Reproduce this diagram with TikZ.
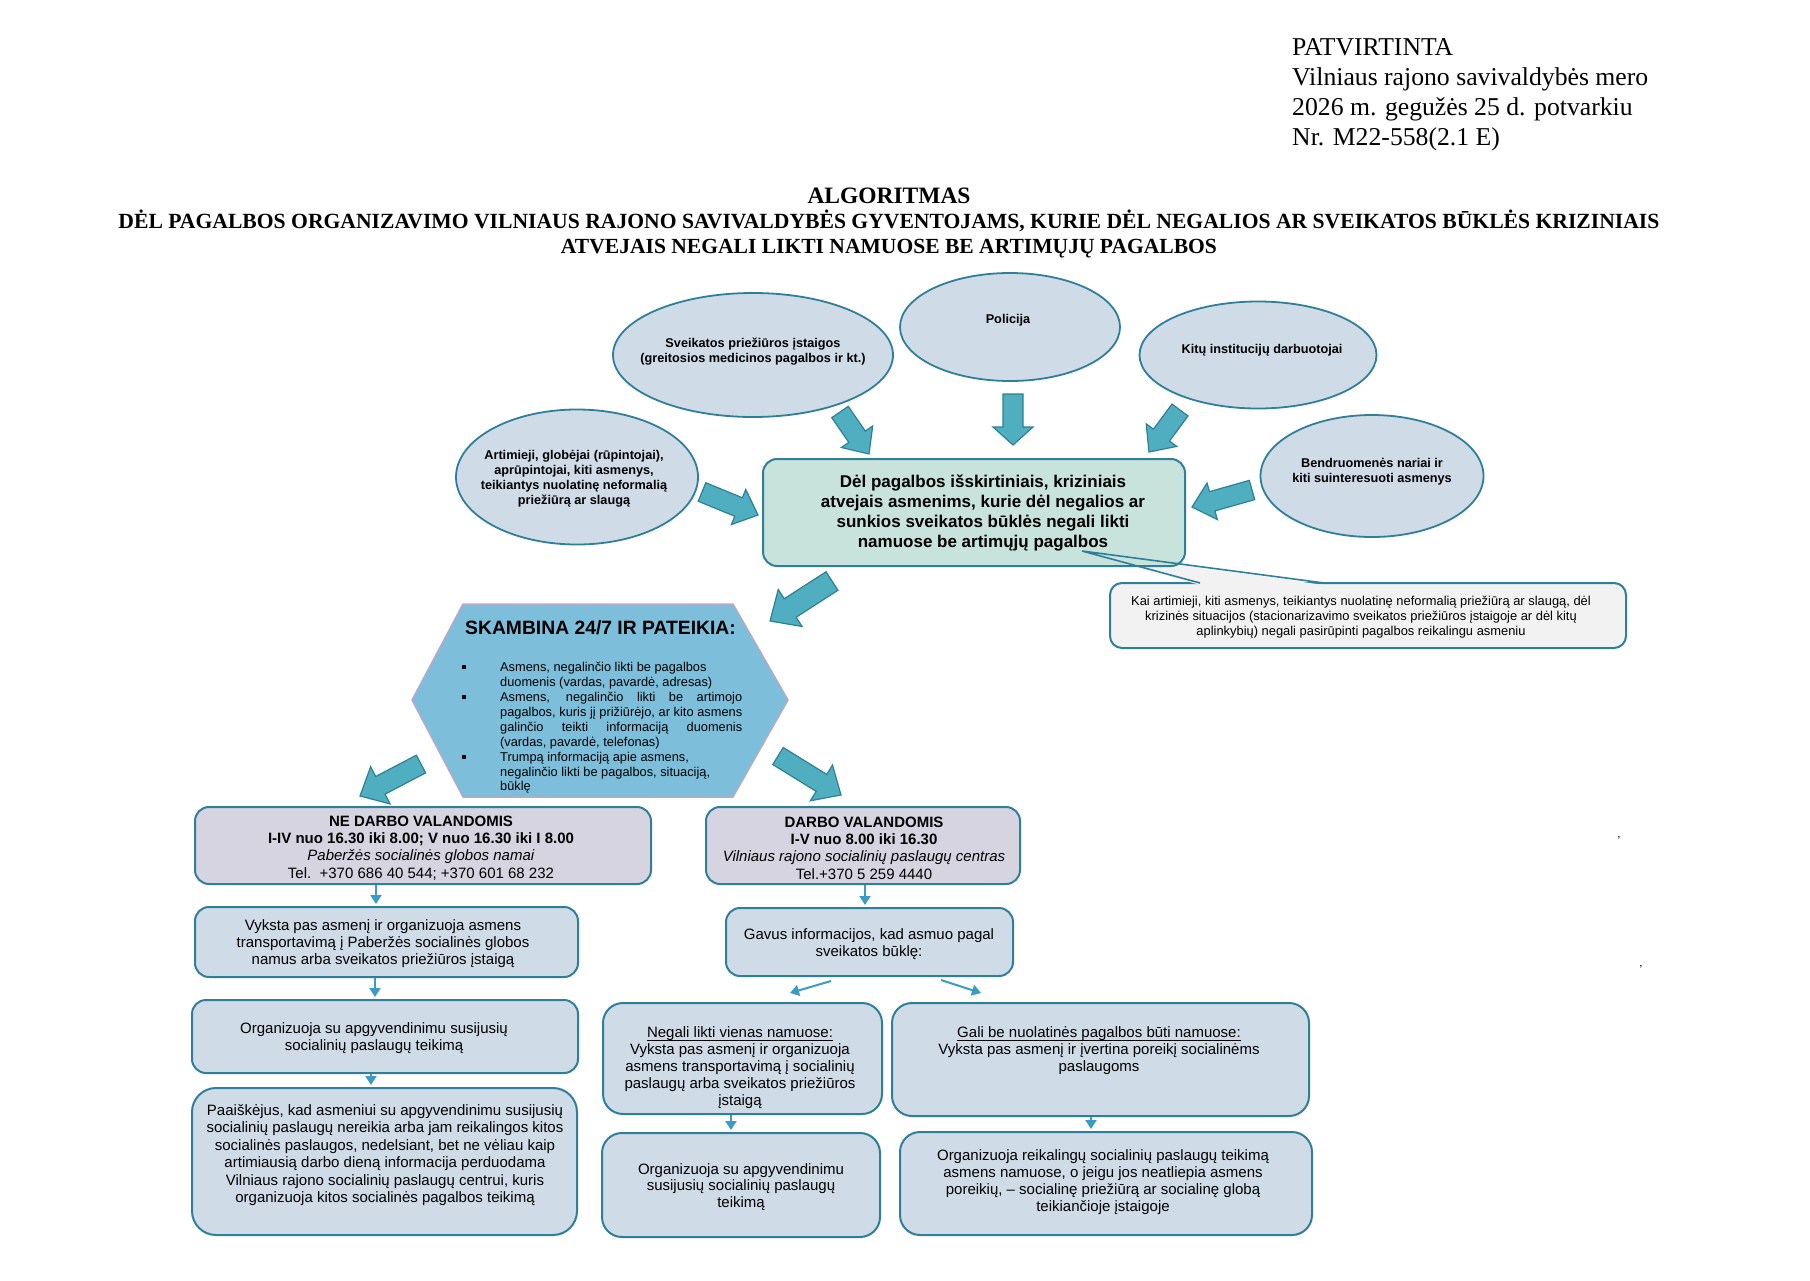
\documentclass[tikz,border=0pt]{standalone}
\usepackage{fontspec}
\setmainfont{Liberation Serif}
\newfontfamily\arialf{Liberation Sans}
\usetikzlibrary{shapes.geometric,arrows.meta,calc}

\definecolor{ellfill}{HTML}{CFDCE8}
\definecolor{tealb}{HTML}{2F7F9A}
\definecolor{mint}{HTML}{C7E3DB}
\definecolor{hexfill}{HTML}{7DBFDB}
\definecolor{hexline}{HTML}{B4AAC9}
\definecolor{barfill}{HTML}{4FAFC0}
\definecolor{barline}{HTML}{2E8094}
\definecolor{thinc}{HTML}{3A9CC4}
\definecolor{lav}{HTML}{D6D4E0}
\definecolor{callfill}{HTML}{F2F2F2}

\tikzset{
 ell/.style={ellipse, draw=tealb, line width=1.8pt, fill=ellfill, inner sep=0pt},
 etext/.style={font=\arialf\bfseries\fontsize{12.7}{15}\selectfont, align=center, inner sep=0pt},
 rbox/.style={draw=tealb, line width=2pt, fill=ellfill, rounded corners=14pt, inner sep=0pt},
 lbox/.style={rbox, fill=lav},
 btext/.style={font=\arialf\fontsize{15}{17}\selectfont, align=center, inner sep=0pt},
 thinarrow/.style={draw=thinc, line width=2pt, shorten >=2pt, -{Triangle[width=11pt,length=9pt]}},
 bar/.style={fill=barfill, draw=barline, line width=1.2pt, line join=miter},
 hdr/.style={font=\fontsize{25.7}{30}\selectfont, inner sep=0pt},
}

\newcommand{\barrow}[5]{%
  \pgfpointdiff{\pgfpointanchor{#1}{center}}{\pgfpointanchor{#2}{center}}%
  \pgfgetlastxy{\bdx}{\bdy}%
  \pgfmathsetmacro{\barang}{atan2(\bdy,\bdx)}%
  \pgfmathsetmacro{\barlen}{veclen(\bdx,\bdy)}%
  \begin{scope}[shift={(#1)}, rotate=\barang, x=1pt, y=1pt]
    \draw[bar] (0,-#3) -- ({\barlen-#5},-#3) -- ({\barlen-#5},-#4) -- (\barlen,0) -- ({\barlen-#5},#4) -- ({\barlen-#5},#3) -- (0,#3) -- cycle;
  \end{scope}}
\newcommand{\hbul}{\makebox[39pt][l]{\hspace*{1pt}\rule[2.6pt]{4pt}{4pt}}}
\newcommand{\hind}{\hspace*{39pt}}
\newcommand{\jl}[1]{\makebox[242pt][s]{#1}}
\newcommand{\ulbox}[1]{\setbox0\hbox{#1}\rlap{\rule[-2.8pt]{\wd0}{1.1pt}}\box0}

\begin{document}
\begin{tikzpicture}[x=1pt,y=-1pt]
\useasboundingbox (0,0) rectangle (1810,1280);
\fill[white] (0,0) rectangle (1810,1280);

% header
\node[hdr, anchor=base west] (h1) at (1292,55) {PATVIRTINTA};
\node[hdr, anchor=base west] (h2) at (1292,85.5) {Vilniaus rajono savivaldybės mero};
\node[hdr, anchor=base west] (h3) at (1292,115.5) {2026 m. gegužės 25 d. potvarkiu};
\node[hdr, anchor=base west] (h4) at (1292,145) {Nr. M22-558(2.1 E)};

% title
\node[anchor=base, inner sep=0pt] (t1) at (889,203) {\resizebox{163pt}{!}{\fontsize{23.5}{26}\selectfont\bfseries ALGORITMAS}};
\node[anchor=base, inner sep=0pt] (t2) at (889,228) {\resizebox{1541pt}{!}{\fontsize{21.3}{24}\selectfont\bfseries DĖL PAGALBOS ORGANIZAVIMO VILNIAUS RAJONO SAVIVALDYBĖS GYVENTOJAMS, KURIE DĖL NEGALIOS AR SVEIKATOS BŪKLĖS KRIZINIAIS}};
\node[anchor=base, inner sep=0pt] (t3) at (889,253) {\resizebox{656pt}{!}{\fontsize{21.3}{24}\selectfont\bfseries ATVEJAIS NEGALI LIKTI NAMUOSE BE ARTIMŲJŲ PAGALBOS}};

% callout (behind main box)
\node[draw=tealb, line width=2pt, fill=callfill, rounded corners=12pt, minimum width=516pt, minimum height=65pt, inner sep=0pt] (cb) at (1368,615.5) {};
\coordinate (ctip) at (1082,551);
\coordinate (cw1) at (1200,583);
\coordinate (cw2) at (1324,583);
\fill[callfill] ([yshift=-2pt]cw1) -- (ctip) -- ([yshift=-2pt]cw2) -- cycle;

% main box
\node[rbox, fill=mint, minimum width=422pt, minimum height=107pt] (main) at (974,512.5) {};
\draw[draw=tealb, line width=1.6pt] (cw1) -- (ctip) -- (cw2);
\node[font=\arialf\bfseries\fontsize{17}{20}\selectfont, align=center, inner sep=0pt] (maint) at (983,513) {Dėl pagalbos išskirtiniais, kriziniais\\atvejais asmenims, kurie dėl negalios ar\\sunkios sveikatos būklės negali likti\\namuose be artimųjų pagalbos};
\node[font=\arialf\fontsize{12.9}{15.3}\selectfont, align=center, inner sep=0pt] (cbt) at (1361,617) {Kai artimieji, kiti asmenys, teikiantys nuolatinę neformalią priežiūrą ar slaugą, dėl\\krizinės situacijos (stacionarizavimo sveikatos priežiūros įstaigoje ar dėl kitų\\aplinkybių) negali pasirūpinti pagalbos reikalingu asmeniu};

% ellipses
\node[ell, minimum width=280pt, minimum height=124pt] (e1) at (753,355) {};
\node[etext] (e1t) at (753,352) {Sveikatos priežiūros įstaigos\\(greitosios medicinos pagalbos ir kt.)};
\node[ell, minimum width=220pt, minimum height=108pt] (e2) at (1010,327) {};
\node[etext] (e2t) at (1008,320) {Policija};
\node[ell, minimum width=237pt, minimum height=107pt] (e3) at (1258,355) {};
\node[etext] (e3t) at (1262,350) {Kitų institucijų darbuotojai};
\node[ell, minimum width=223pt, minimum height=122pt] (e4) at (1372,476) {};
\node[etext] (e4t) at (1372,471.5) {Bendruomenės nariai ir\\kiti suinteresuoti asmenys};
\node[ell, minimum width=242pt, minimum height=135pt] (e5) at (577,477) {};
\node[etext] (e5t) at (574,479) {Artimieji, globėjai (rūpintojai),\\aprūpintojai, kiti asmenys,\\teikiantys nuolatinę neformalią\\priežiūrą ar slaugą};

% block arrows
\coordinate (a1s) at (840,412); \coordinate (a1e) at (869,454);
\coordinate (a2s) at (702,492); \coordinate (a2e) at (758,515);
\coordinate (a3s) at (1013,394); \coordinate (a3e) at (1013,445);
\coordinate (a4s) at (1180,410); \coordinate (a4e) at (1149,452);
\coordinate (a5s) at (1252,490); \coordinate (a5e) at (1192,507);
\coordinate (a6s) at (421,764); \coordinate (a6e) at (360,796);
\coordinate (a7s) at (778,756); \coordinate (a7e) at (841,795);
\coordinate (a8s) at (832,581); \coordinate (a8e) at (770,621);
\barrow{a1s}{a1e}{10}{19}{21}
\barrow{a2s}{a2e}{10}{19}{21}
\barrow{a3s}{a3e}{10}{20}{18}
\barrow{a4s}{a4e}{10}{19}{21}
\barrow{a5s}{a5e}{10}{19}{21}
\barrow{a6s}{a6e}{10}{21}{23}
\barrow{a7s}{a7e}{10}{21}{23}
\barrow{a8s}{a8e}{11}{22}{24}

% hexagon
\draw[fill=hexfill, draw=hexline, line width=1.5pt, line join=miter] (463,604) -- (733,604) -- (788,700) -- (733,797) -- (463,797) -- (412,700) -- cycle;
\node[font=\arialf\bfseries\fontsize{19.3}{22}\selectfont, anchor=base, inner sep=0pt] (hext) at (600.5,634) {SKAMBINA 24/7 IR PATEIKIA:};
\node[font=\arialf\fontsize{12.8}{14.9}\selectfont, align=left, anchor=west, inner sep=0pt] (hexl) at (461,728) {%
\hbul Asmens, negalinčio likti be pagalbos\\
\hind duomenis (vardas, pavardė, adresas)\\
\hbul\jl{Asmens, negalinčio likti be artimojo}\\
\hind\jl{pagalbos, kuris jį prižiūrėjo, ar kito asmens}\\
\hind\jl{galinčio teikti informaciją duomenis}\\
\hind (vardas, pavardė, telefonas)\\
\hbul Trumpą informaciją apie asmens,\\
\hind negalinčio likti be pagalbos, situaciją,\\
\hind būklę};

% lower boxes
\node[lbox, minimum width=456pt, minimum height=77pt] (b1) at (423,845.5) {};
\node[btext, font=\arialf\fontsize{15}{17.3}\selectfont] (b1t) at (421,848) {\textbf{NE DARBO VALANDOMIS}\\\textbf{I-IV nuo 16.30 iki 8.00; V nuo 16.30 iki I 8.00}\\\textit{Paberžės socialinės globos namai}\\Tel.\ \ +370 686 40 544; +370 601 68 232};
\node[lbox, minimum width=314pt, minimum height=77pt] (b2) at (863,845.5) {};
\node[btext, font=\arialf\fontsize{15}{17.3}\selectfont] (b2t) at (864,848) {\textbf{DARBO VALANDOMIS}\\\textbf{I-V nuo 8.00 iki 16.30}\\\textit{Vilniaus rajono socialinių paslaugų centras}\\Tel.+370 5 259 4440};

\node[rbox, minimum width=383pt, minimum height=70pt] (c1) at (386.5,942) {};
\node[btext] (c1t) at (383,944) {Vyksta pas asmenį ir organizuoja asmens\\transportavimą į Paberžės socialinės globos\\namus arba sveikatos priežiūros įstaigą};
\node[rbox, minimum width=386pt, minimum height=73pt] (c2) at (385,1036.5) {};
\node[btext] (c2t) at (374,1038) {Organizuoja su apgyvendinimu susijusių\\socialinių paslaugų teikimą};
\node[rbox, rounded corners=24pt, minimum width=385pt, minimum height=147pt] (c3) at (384.5,1161.5) {};
\node[btext, font=\arialf\fontsize{15}{17.5}\selectfont] (c3t) at (385,1155) {Paaiškėjus, kad asmeniui su apgyvendinimu susijusių\\socialinių paslaugų nereikia arba jam reikalingos kitos\\socialinės paslaugos, nedelsiant, bet ne vėliau kaip\\artimiausią darbo dieną informacija perduodama\\Vilniaus rajono socialinių paslaugų centrui, kuris\\organizuoja kitos socialinės pagalbos teikimą};

\node[rbox, minimum width=287pt, minimum height=68pt] (d1) at (869.5,942) {};
\node[btext] (d1t) at (869,944) {Gavus informacijos, kad asmuo pagal\\sveikatos būklę:};
\node[rbox, rounded corners=20pt, minimum width=279pt, minimum height=111pt] (e1b) at (742.5,1058.5) {};
\node[btext] (e1bt) at (740,1068) {\ulbox{Negali likti vienas namuose:}\\Vyksta pas asmenį ir organizuoja\\asmens transportavimą į socialinių\\paslaugų arba sveikatos priežiūros\\įstaigą};
\node[rbox, rounded corners=20pt, minimum width=417pt, minimum height=113pt] (e2b) at (1100.5,1059.5) {};
\node[btext] (e2bt) at (1099,1051) {\ulbox{Gali be nuolatinės pagalbos būti namuose:}\\Vyksta pas asmenį ir įvertina poreikį socialinėms\\paslaugoms};
\node[rbox, rounded corners=20pt, minimum width=278pt, minimum height=104pt] (f1) at (741,1185) {};
\node[btext, font=\arialf\fontsize{15}{16.5}\selectfont] (f1t) at (741,1187) {Organizuoja su apgyvendinimu\\susijusių socialinių paslaugų\\teikimą};
\node[rbox, rounded corners=20pt, minimum width=412pt, minimum height=103pt] (f2) at (1106,1183.5) {};
\node[btext] (f2t) at (1103,1182) {Organizuoja reikalingų socialinių paslaugų teikimą\\asmens namuose, o jeigu jos neatliepia asmens\\poreikių, – socialinę priežiūrą ar socialinę globą\\teikiančioje įstaigoje};

% thin arrows
\coordinate (x1) at (376,0);
\coordinate (x2) at (375,0);
\coordinate (x3) at (371,0);
\coordinate (x4) at (865,0);
\coordinate (x7) at (731,0);
\coordinate (x8) at (1091,0);
\draw[thinarrow] (b1.south -| x1) -- (c1.north -| x1);
\draw[thinarrow] (c1.south -| x2) -- (c2.north -| x2);
\draw[thinarrow] (c2.south -| x3) -- (c3.north -| x3);
\draw[thinarrow] (b2.south -| x4) -- (d1.north -| x4);
\draw[thinarrow] (e1b.south -| x7) -- (f1.north -| x7);
\draw[thinarrow] (e2b.south -| x8) -- (f2.north -| x8);
\coordinate (s5a) at (831,981); \coordinate (s5b) at (790,993);
\coordinate (s6a) at (941,980); \coordinate (s6b) at (981,993);
\draw[thinarrow, shorten >=0pt] (s5a) -- (s5b);
\draw[thinarrow, shorten >=0pt] (s6a) -- (s6b);

% stray marks
\node[font=\fontsize{11}{12}\selectfont, inner sep=0pt] (m1) at (1619,838) {,};
\node[font=\fontsize{11}{12}\selectfont, inner sep=0pt] (m2) at (1641,967) {,};
\end{tikzpicture}
\end{document}
